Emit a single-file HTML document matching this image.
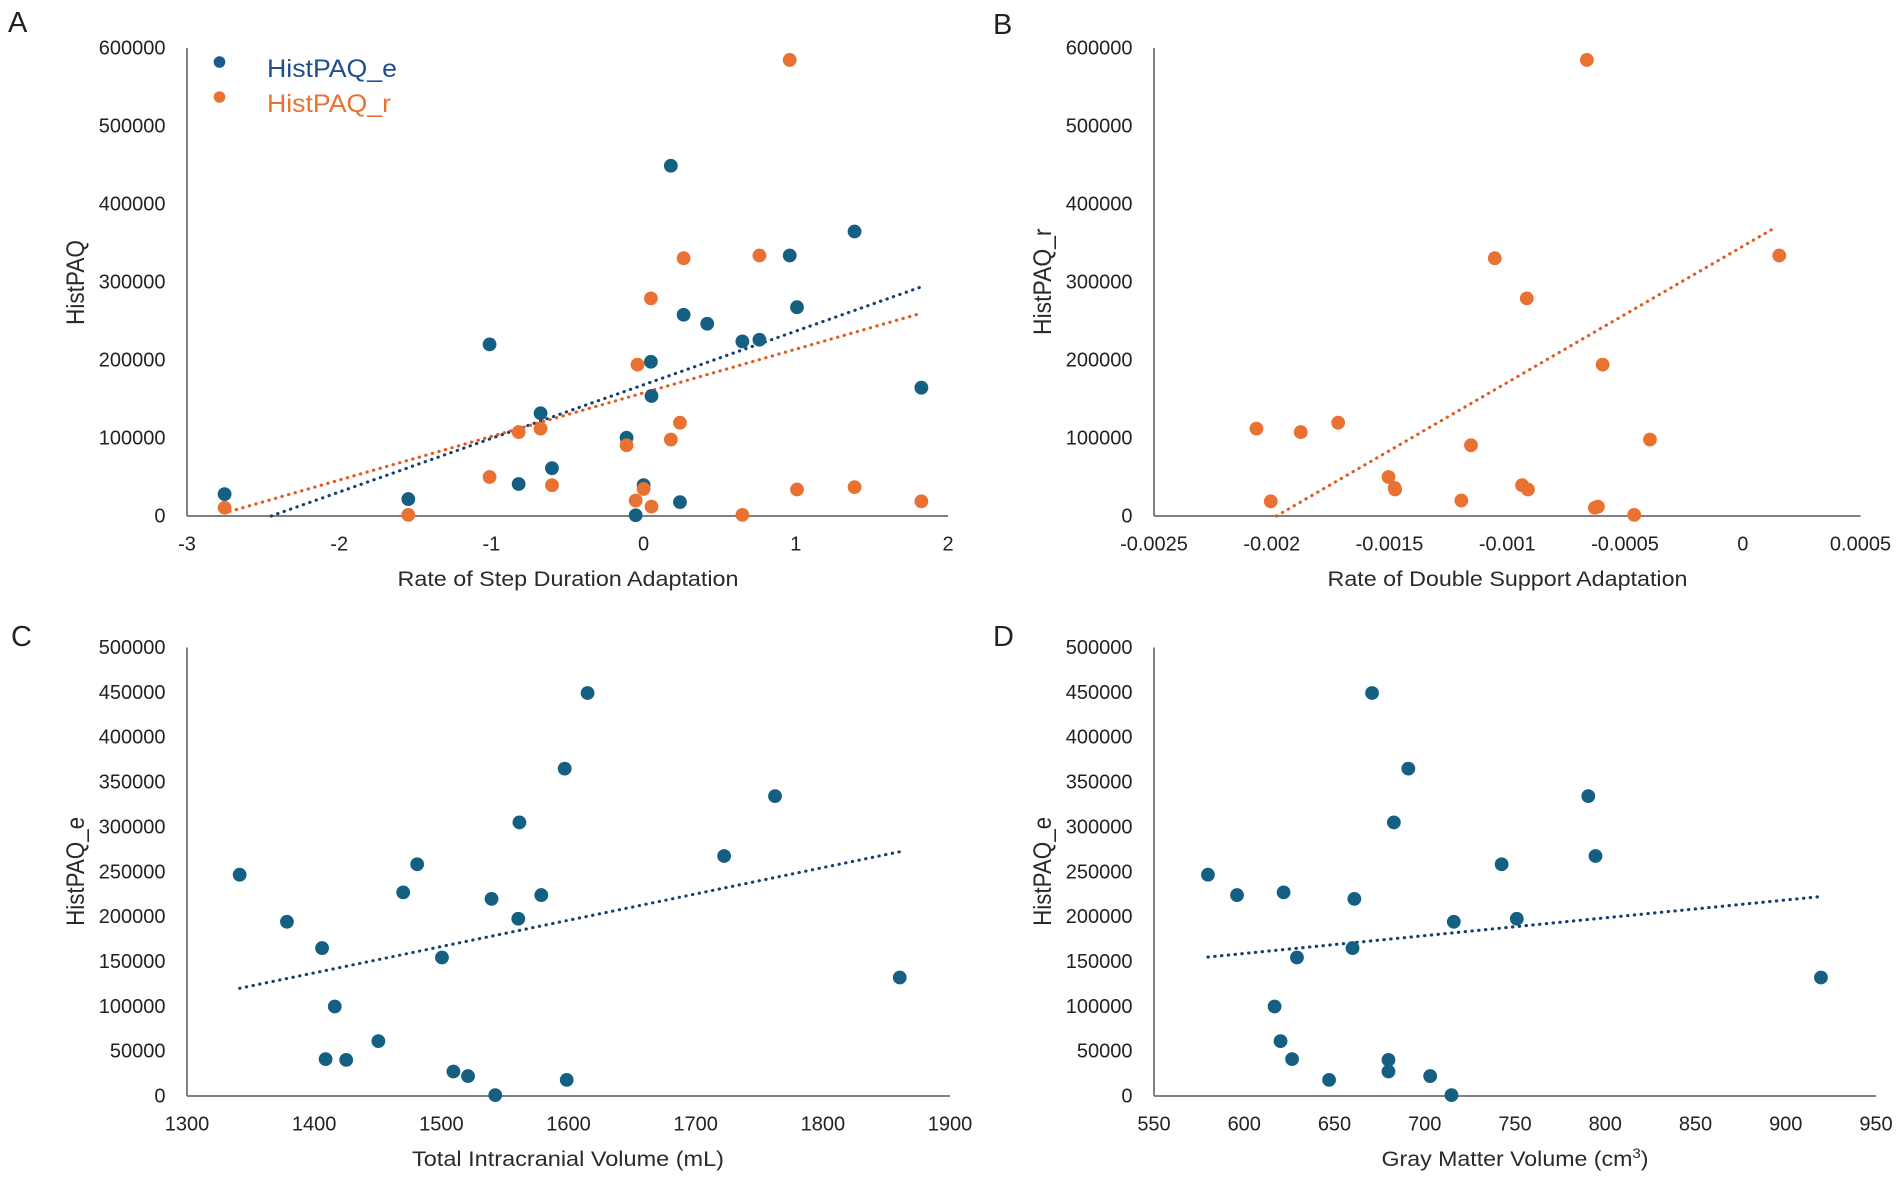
<!DOCTYPE html>
<html lang="en">
<head>
<meta charset="utf-8">
<title>HistPAQ scatter plots</title>
<style>
html,body{margin:0;padding:0;background:#fff;}
svg{display:block;font-family:"Liberation Sans",sans-serif;}
.tick{font-size:20px;fill:#222;}
.title{font-size:21.5px;fill:#2a2a2a;}
.ytitle{font-size:25px;fill:#2a2a2a;}
.letter{font-size:29px;fill:#222;}
.legend{font-size:25px;}
</style>
</head>
<body>
<svg id="figure" xmlns="http://www.w3.org/2000/svg" width="1902" height="1181" viewBox="0 0 1902 1181">
  <rect x="0" y="0" width="1902" height="1181" fill="#ffffff"/>
  <g id="marks"></g>

  <text class="letter" x="8" y="32">A</text>
  <text class="letter" x="993" y="34">B</text>
  <text class="letter" x="11" y="646">C</text>
  <text class="letter" x="993" y="646">D</text>

  <text class="title" x="568" y="586" text-anchor="middle" textLength="341" lengthAdjust="spacingAndGlyphs">Rate of Step Duration Adaptation</text>
  <text class="title" x="1507.5" y="586" text-anchor="middle" textLength="360" lengthAdjust="spacingAndGlyphs">Rate of Double Support Adaptation</text>
  <text class="title" x="568" y="1166" text-anchor="middle" textLength="312" lengthAdjust="spacingAndGlyphs">Total Intracranial Volume (mL)</text>
  <text class="title" x="1515" y="1166" text-anchor="middle" textLength="267" lengthAdjust="spacingAndGlyphs">Gray Matter Volume (cm<tspan font-size="14" dy="-8">3</tspan><tspan dy="8">)</tspan></text>

  <text class="ytitle" transform="translate(84,282.5) rotate(-90)" text-anchor="middle" textLength="85" lengthAdjust="spacingAndGlyphs">HistPAQ</text>
  <text class="ytitle" transform="translate(1051,281.7) rotate(-90)" text-anchor="middle" textLength="106.5" lengthAdjust="spacingAndGlyphs">HistPAQ_r</text>
  <text class="ytitle" transform="translate(84,871.4) rotate(-90)" text-anchor="middle" textLength="109" lengthAdjust="spacingAndGlyphs">HistPAQ_e</text>
  <text class="ytitle" transform="translate(1051,871.4) rotate(-90)" text-anchor="middle" textLength="109" lengthAdjust="spacingAndGlyphs">HistPAQ_e</text>

  <g>
    <circle cx="219.5" cy="62" r="5.8" fill="#1a5a8c"/>
    <text class="legend" x="267" y="77" fill="#1f4e8f" textLength="130" lengthAdjust="spacingAndGlyphs">HistPAQ_e</text>
    <circle cx="219.5" cy="97" r="5.8" fill="#E97132"/>
    <text class="legend" x="267" y="112" fill="#E97132" textLength="124" lengthAdjust="spacingAndGlyphs">HistPAQ_r</text>
  </g>
</svg>
<script>
// Panel A
const stepX = [-2.753,-1.546,-1.012,-0.821,-0.677,-0.602,-0.112,-0.052,0,0.048,0.052,0.179,0.239,0.263,0.418,0.649,0.761,0.96,1.008,1.386,1.825];
const stepBlueY = [28000,21700,220000,41000,131700,61300,100300,1000,39500,197800,153900,449000,17800,258000,246500,223800,226000,334000,267700,364700,164500];
const stepOrangeX = [-2.753,-1.546,-1.012,-0.821,-0.677,-0.602,-0.112,-0.052,0,0.052,-0.04,0.048,0.179,0.239,0.263,0.649,0.761,0.96,1.008,1.386,1.825];
const stepOrangeY = [10600,1400,50000,107600,112000,39500,90700,19800,34700,12000,194000,279000,98000,119600,330500,1400,334000,584700,34000,37000,18800];
const stepOrangeTrendX = [-2.72,1.825];
const stepOrangeTrendY = [5800,260000];
const stepXTicks = [-3,-2,-1,0,1,2];
const stepYTicks = [0,100000,200000,300000,400000,500000,600000];

// Panel B
const doubleX = [-0.000662,-0.001053,0.000155,-0.000917,-0.000595,-0.001718,-0.002065,-0.001877,-0.000394,-0.001154,-0.001504,-0.000937,-0.001478,-0.001476,-0.000912,-0.002004,-0.001195,-0.000628,-0.000615,-0.000461];
const doubleY = [584700,330500,334000,279000,194000,119600,112000,107600,98000,90700,50000,39500,36000,34000,34000,18800,19800,10600,12000,1400];
const doubleTrendX = [-0.00198,0.000139];
const doubleTrendY = [0,370000];
const doubleXTicks = [-0.0025,-0.002,-0.0015,-0.001,-0.0005,0,0.0005];
const doubleYTicks = [0,100000,200000,300000,400000,500000,600000];

// Panel C
const volumeX = [1341.4,1378.6,1406.2,1416.2,1409,1425.2,1450.5,1470,1481,1500.5,1509.5,1521,1539.5,1542.4,1560.5,1561.4,1578.6,1597,1598.6,1615,1722.4,1762.4,1860.5];
const volumeY = [246700,194200,164900,99800,41100,40300,61200,227000,258400,154400,27300,22200,219800,1000,197600,305000,224000,365000,18000,449300,267600,334300,132100];
const volumeXTicks = [1300,1400,1500,1600,1700,1800,1900];
const volumeYTicks = [0,50000,100000,150000,200000,250000,300000,350000,400000,450000,500000];

// Panel D
const grayX = [579.9,596,621.8,661,629.2,660,716.1,751,742.6,794.6,790.6,682.9,690.9,670.8,616.8,620.1,626.5,647,679.9,679.9,703,714.8,919.5];
const grayY = [246700,224000,227000,219800,154400,164900,194200,197600,258400,267600,334300,305000,365000,449300,99800,61200,41100,18000,40300,27300,22200,1000,132100];
const grayXTicks = [550,600,650,700,750,800,850,900,950];
const grayYTicks = [0,50000,100000,150000,200000,250000,300000,350000,400000,450000,500000];

const BLUE = '#156082';
const ORANGE = '#E97132';
const BLUE_TREND = '#16406E';
const ORANGE_TREND = '#E05A22';
const NS = 'http://www.w3.org/2000/svg';
const root = document.getElementById('marks');

function svgEl(tag, parent) {
  const el = document.createElementNS(NS, tag);
  parent.appendChild(el);
  return el;
}

function regression(xs, ys) {
  const n = xs.length;
  let sx = 0, sy = 0, sxx = 0, sxy = 0;
  for (let i = 0; i < n; i++) {
    sx += xs[i];
    sy += ys[i];
    sxx += xs[i] * xs[i];
    sxy += xs[i] * ys[i];
  }
  const slope = (n * sxy - sx * sy) / (n * sxx - sx * sx);
  return { slope: slope, intercept: (sy - slope * sx) / n };
}

function trendEnds(s) {
  if (s.trendX) {
    return { x0: s.trendX[0], y0: s.trendY[0], x1: s.trendX[1], y1: s.trendY[1] };
  }
  const fit = regression(s.x, s.y);
  let x0 = Math.min.apply(null, s.x);
  const x1 = Math.max.apply(null, s.x);
  if (fit.slope * x0 + fit.intercept < 0) {
    x0 = -fit.intercept / fit.slope;
  }
  return { x0: x0, y0: fit.slope * x0 + fit.intercept, x1: x1, y1: fit.slope * x1 + fit.intercept };
}

function drawPanel(cfg) {
  const g = svgEl('g', root);
  
  

  const xMin = cfg.xTicks[0];
  const xMax = cfg.xTicks[cfg.xTicks.length - 1];
  const yMin = cfg.yTicks[0];
  const yMax = cfg.yTicks[cfg.yTicks.length - 1];
  const sx = function (v) { return cfg.left + (v - xMin) / (xMax - xMin) * (cfg.right - cfg.left); };
  const sy = function (v) { return cfg.bottom - (v - yMin) / (yMax - yMin) * (cfg.bottom - cfg.top); };

  cfg.yTicks.forEach(function (t) {
    const label = svgEl('text', g);
    
    
    label.setAttribute('class', 'tick');
    label.setAttribute('x', cfg.left - 21.5);
    label.setAttribute('y', sy(t) + 6.5);
    label.setAttribute('text-anchor', 'end');
    label.textContent = String(t);
  });

  cfg.xTicks.forEach(function (t) {
    const label = svgEl('text', g);
    
    
    label.setAttribute('class', 'tick');
    label.setAttribute('x', sx(t));
    label.setAttribute('y', cfg.bottom + 34.5);
    label.setAttribute('text-anchor', 'middle');
    label.textContent = String(t);
  });

  const yAxis = svgEl('line', g);
  
  
  yAxis.setAttribute('x1', cfg.left);
  yAxis.setAttribute('x2', cfg.left);
  yAxis.setAttribute('y1', cfg.top);
  yAxis.setAttribute('y2', cfg.bottom);
  yAxis.setAttribute('stroke', '#4a4a4a');
  yAxis.setAttribute('stroke-width', '1.4');

  const xAxis = svgEl('line', g);
  
  
  xAxis.setAttribute('x1', cfg.left);
  xAxis.setAttribute('x2', cfg.right);
  xAxis.setAttribute('y1', cfg.bottom);
  xAxis.setAttribute('y2', cfg.bottom);
  xAxis.setAttribute('stroke', '#808080');
  xAxis.setAttribute('stroke-width', '2');

  cfg.series.forEach(function (s) {
    const ends = trendEnds(s);
    const trend = svgEl('line', g);
    
    
    trend.setAttribute('x1', sx(ends.x0));
    trend.setAttribute('y1', sy(ends.y0));
    trend.setAttribute('x2', sx(ends.x1));
    trend.setAttribute('y2', sy(ends.y1));
    trend.setAttribute('stroke', s.trendColor);
    trend.setAttribute('stroke-width', '3.1');
    trend.setAttribute('stroke-linecap', 'round');
    trend.setAttribute('stroke-dasharray', '0.4 6.4');
  });

  cfg.series.forEach(function (s) {
    s.x.forEach(function (xv, i) {
      const dot = svgEl('circle', g);
      
      
      dot.setAttribute('cx', sx(xv));
      dot.setAttribute('cy', sy(s.y[i]));
      dot.setAttribute('r', '6.9');
      dot.setAttribute('fill', s.color);
    });
  });
}

drawPanel({
  id: 'a', left: 187, right: 948, top: 48, bottom: 516,
  xTicks: stepXTicks, yTicks: stepYTicks,
  series: [
    { name: 'histpaq-e', x: stepX, y: stepBlueY, color: BLUE, trendColor: BLUE_TREND },
    { name: 'histpaq-r', x: stepOrangeX, y: stepOrangeY, color: ORANGE, trendColor: ORANGE_TREND, trendX: stepOrangeTrendX, trendY: stepOrangeTrendY }
  ]
});
drawPanel({
  id: 'b', left: 1154, right: 1860.5, top: 48, bottom: 516,
  xTicks: doubleXTicks, yTicks: doubleYTicks,
  series: [
    { name: 'histpaq-r', x: doubleX, y: doubleY, color: ORANGE, trendColor: ORANGE_TREND, trendX: doubleTrendX, trendY: doubleTrendY }
  ]
});
drawPanel({
  id: 'c', left: 187, right: 950, top: 647.5, bottom: 1096,
  xTicks: volumeXTicks, yTicks: volumeYTicks,
  series: [
    { name: 'histpaq-e', x: volumeX, y: volumeY, color: BLUE, trendColor: BLUE_TREND }
  ]
});
drawPanel({
  id: 'd', left: 1154, right: 1876, top: 647.5, bottom: 1096,
  xTicks: grayXTicks, yTicks: grayYTicks,
  series: [
    { name: 'histpaq-e', x: grayX, y: grayY, color: BLUE, trendColor: BLUE_TREND }
  ]
});
</script>
</body>
</html>
